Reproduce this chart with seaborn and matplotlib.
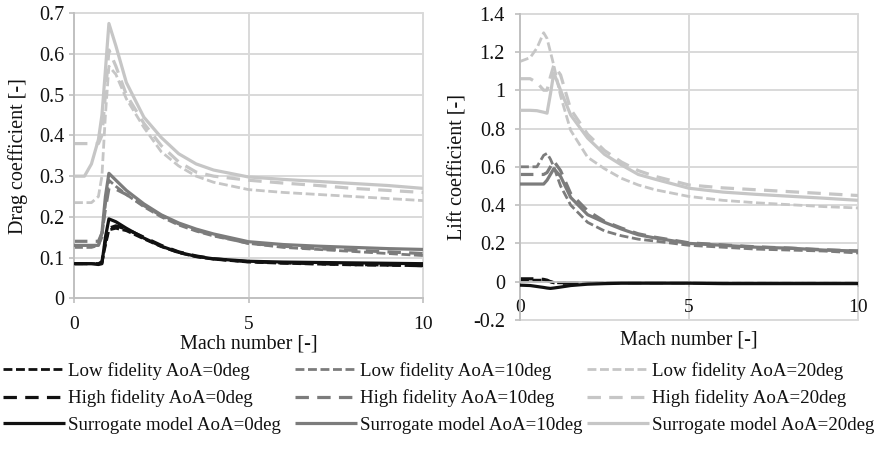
import numpy as np
import pandas as pd
import matplotlib
matplotlib.use("Agg")
import matplotlib.pyplot as plt
import seaborn as sns

# ---------------------------------------------------------------- data
mach = [0, 0.3, 0.5, 0.7, 0.8, 0.9, 1.0, 1.2, 1.5, 2.0, 2.5, 3.0, 3.5, 4.0,
        5.0, 6.0, 7.0, 8.0, 9.0, 10.0]

# drag coefficient
cd_low_0 = [0.085, 0.085, 0.085, 0.085, 0.090, 0.130, 0.168, 0.172, 0.166, 0.146,
            0.127, 0.112, 0.102, 0.096, 0.089, 0.086, 0.084, 0.082, 0.081, 0.080]
cd_high_0 = [0.085, 0.085, 0.085, 0.085, 0.088, 0.140, 0.172, 0.178, 0.170, 0.150,
             0.130, 0.114, 0.104, 0.097, 0.090, 0.087, 0.085, 0.083, 0.082, 0.080]
cd_sur_0 = [0.085, 0.085, 0.085, 0.083, 0.085, 0.150, 0.195, 0.188, 0.172, 0.148,
            0.128, 0.113, 0.103, 0.097, 0.091, 0.089, 0.088, 0.087, 0.086, 0.085]
cd_low_10 = [0.125, 0.125, 0.125, 0.130, 0.150, 0.230, 0.290, 0.275, 0.255, 0.225,
             0.200, 0.180, 0.165, 0.153, 0.135, 0.125, 0.120, 0.115, 0.110, 0.105]
cd_high_10 = [0.140, 0.140, 0.140, 0.140, 0.160, 0.220, 0.270, 0.268, 0.255, 0.228,
              0.203, 0.183, 0.167, 0.155, 0.135, 0.128, 0.122, 0.118, 0.114, 0.110]
cd_sur_10 = [0.130, 0.130, 0.130, 0.130, 0.160, 0.250, 0.307, 0.290, 0.265, 0.232,
             0.205, 0.185, 0.170, 0.158, 0.139, 0.132, 0.128, 0.125, 0.122, 0.120]
cd_low_20 = [0.235, 0.235, 0.235, 0.250, 0.300, 0.450, 0.570, 0.550, 0.490, 0.420,
             0.360, 0.325, 0.300, 0.285, 0.267, 0.260, 0.255, 0.250, 0.245, 0.240]
cd_high_20 = [0.380, 0.380, 0.380, 0.380, 0.400, 0.500, 0.610, 0.570, 0.500, 0.430,
              0.375, 0.335, 0.310, 0.300, 0.290, 0.283, 0.277, 0.270, 0.265, 0.260]
cd_sur_20 = [0.300, 0.300, 0.330, 0.390, 0.450, 0.560, 0.675, 0.620, 0.530, 0.445,
             0.395, 0.355, 0.330, 0.315, 0.298, 0.292, 0.287, 0.282, 0.277, 0.270]

# lift coefficient
cl_low_0 = [0.008, 0.008, 0.008, 0.008, 0.005, 0.000, -0.005, -0.006, -0.006, -0.006,
            -0.005, -0.005, -0.005, -0.004, -0.004, -0.005, -0.005, -0.006, -0.006, -0.006]
cl_high_0 = [0.015, 0.015, 0.015, 0.012, 0.008, 0.000, -0.005, -0.008, -0.008, -0.008,
             -0.006, -0.005, -0.005, -0.005, -0.005, -0.006, -0.007, -0.007, -0.007, -0.008]
cl_sur_0 = [-0.018, -0.020, -0.025, -0.030, -0.033, -0.035, -0.033, -0.028, -0.020, -0.013,
            -0.010, -0.008, -0.008, -0.008, -0.008, -0.010, -0.010, -0.010, -0.010, -0.010]
cl_low_10 = [0.600, 0.600, 0.600, 0.660, 0.670, 0.640, 0.600, 0.500, 0.400, 0.310,
             0.265, 0.240, 0.222, 0.212, 0.190, 0.180, 0.170, 0.165, 0.160, 0.150]
cl_high_10 = [0.560, 0.560, 0.560, 0.560, 0.570, 0.600, 0.630, 0.580, 0.460, 0.370,
              0.315, 0.280, 0.250, 0.232, 0.203, 0.192, 0.182, 0.175, 0.167, 0.160]
cl_sur_10 = [0.510, 0.510, 0.510, 0.510, 0.530, 0.560, 0.590, 0.550, 0.440, 0.350,
             0.310, 0.275, 0.245, 0.228, 0.200, 0.190, 0.180, 0.175, 0.165, 0.160]
cl_low_20 = [1.150, 1.170, 1.220, 1.300, 1.270, 1.200, 1.130, 0.970, 0.790, 0.650,
             0.590, 0.540, 0.505, 0.480, 0.445, 0.425, 0.412, 0.402, 0.392, 0.385]
cl_high_20 = [1.060, 1.060, 1.040, 1.000, 1.000, 1.070, 1.130, 1.080, 0.900, 0.770,
              0.685, 0.625, 0.580, 0.550, 0.505, 0.490, 0.480, 0.470, 0.460, 0.450]
cl_sur_20 = [0.895, 0.895, 0.893, 0.885, 0.880, 0.980, 1.090, 1.000, 0.870, 0.750,
             0.665, 0.610, 0.560, 0.535, 0.488, 0.468, 0.456, 0.446, 0.436, 0.425]

mach_ticks = [0, 5, 10]
drag_ticks = [0, 0.1, 0.2, 0.3, 0.4, 0.5, 0.6, 0.7]
lift_ticks = [-0.2, 0, 0.2, 0.4, 0.6, 0.8, 1, 1.2, 1.4]

angles = ["0", "10", "20"]
fidelities = ["Low fidelity", "High fidelity", "Surrogate model"]

drag = {("Low fidelity", "0"): cd_low_0, ("High fidelity", "0"): cd_high_0,
        ("Surrogate model", "0"): cd_sur_0,
        ("Low fidelity", "10"): cd_low_10, ("High fidelity", "10"): cd_high_10,
        ("Surrogate model", "10"): cd_sur_10,
        ("Low fidelity", "20"): cd_low_20, ("High fidelity", "20"): cd_high_20,
        ("Surrogate model", "20"): cd_sur_20}
lift = {("Low fidelity", "0"): cl_low_0, ("High fidelity", "0"): cl_high_0,
        ("Surrogate model", "0"): cl_sur_0,
        ("Low fidelity", "10"): cl_low_10, ("High fidelity", "10"): cl_high_10,
        ("Surrogate model", "10"): cl_sur_10,
        ("Low fidelity", "20"): cl_low_20, ("High fidelity", "20"): cl_high_20,
        ("Surrogate model", "20"): cl_sur_20}

# ---------------------------------------------------------------- styles
colors = {"0": "#111111", "10": "#7c7c7c", "20": "#c6c6c6"}
line_style = {
    "Low fidelity": dict(lw=2.0, dashes=(3.2, 1.3)),
    "High fidelity": dict(lw=2.3, dashes=(4.2, 2.6)),
    "Surrogate model": dict(lw=2.3, dashes=None),
}
grid_col = "#d9d9d9"
axis_col = "#bfbfbf"
text_col = "#111111"

sns.set_theme(style="white")
plt.rcParams["font.family"] = ["Liberation Serif", "DejaVu Serif"]
plt.rcParams["font.size"] = 14

W, H = 880, 454
fig = plt.figure(figsize=(W / 100, H / 100), dpi=100)
ax1 = fig.add_axes([74 / W, 1 - 298.3 / H, 349 / W, 285 / H])
ax2 = fig.add_axes([520 / W, 1 - 320 / H, 338 / W, 306.4 / H])


def draw_series(ax, table):
    for ang in angles:
        for fid in fidelities:
            df = pd.DataFrame({"Mach": mach, "value": table[(fid, ang)]})
            st = line_style[fid]
            sns.lineplot(data=df, x="Mach", y="value", ax=ax, color=colors[ang],
                         lw=st["lw"], label=f"{fid} AoA={ang}deg",
                         zorder=3 if fid == "Surrogate model" else 2)
            line = ax.get_lines()[-1]
            if st["dashes"] is not None:
                line.set_dashes(st["dashes"])
            line.set_solid_capstyle("butt")
            line.set_dash_capstyle("butt")
    if ax.get_legend() is not None:
        ax.get_legend().remove()


draw_series(ax1, drag)
draw_series(ax2, lift)


def fmt(v):
    return f"{round(v, 1):g}"


for ax, yt, ylabel in [(ax1, drag_ticks, "Drag coefficient [-]"),
                       (ax2, lift_ticks, "Lift coefficient [-]")]:
    ax.set_xlim(0, 10)
    ax.set_ylim(yt[0], yt[-1])
    ax.set_xticks(mach_ticks)
    ax.set_xticklabels([fmt(v) for v in mach_ticks])
    ax.set_yticks(yt)
    ax.set_yticklabels([fmt(v) for v in yt])
    ax.grid(True, color=grid_col, lw=1.4)
    ax.tick_params(axis="both", which="both", direction="out", length=3.8,
                   width=1.2, color=axis_col, labelcolor=text_col, labelsize=14.5,
                   left=True, bottom=True, grid_clip_on=False)
    ax.tick_params(axis="x", labelsize=14)
    for side in ["top", "right"]:
        ax.spines[side].set_visible(False)
    for side in ["left", "bottom"]:
        ax.spines[side].set_color(axis_col)
        ax.spines[side].set_linewidth(1.3)
    ax.set_ylabel(ylabel, fontsize=14.5, color=text_col, va="center")
    ax.set_xlabel("Mach number [-]", fontsize=14.5, color=text_col, va="center")

ax1.tick_params(axis="y", pad=3)
ax1.tick_params(axis="x", pad=9)
ax2.tick_params(axis="y", pad=7)
ax2.tick_params(axis="x", pad=9)
# lift chart: the Mach axis crosses the vertical axis at zero
ax2.spines["bottom"].set_position(("data", 0))

ax1.yaxis.set_label_coords((18.5 - 74) / 349, 0.5)
ax1.xaxis.set_label_coords(0.5, (298.3 - 344.5) / 285)
ax2.yaxis.set_label_coords((458 - 520) / 338, 0.5)
ax2.xaxis.set_label_coords(0.5, (320 - 340) / 306.4)

# legend: three columns, one per angle of attack
handles, labels = ax1.get_legend_handles_labels()
fs = 13.6
fs_px = fs * 100 / 72
col_text_x = [68, 360, 652]
hl_px = 62
for i, ang in enumerate(angles):
    idx = [labels.index(f"{fid} AoA={ang}deg") for fid in fidelities]
    fig.legend([handles[j] for j in idx], [labels[j] for j in idx],
               loc="upper left",
               bbox_to_anchor=((col_text_x[i] - hl_px - 3) / W, 1 - 362 / H),
               frameon=False, fontsize=fs, handlelength=hl_px / fs_px,
               handletextpad=3 / fs_px, borderpad=0, borderaxespad=0,
               labelspacing=0.5, labelcolor=text_col)

fig.savefig("out.png", dpi=100)
